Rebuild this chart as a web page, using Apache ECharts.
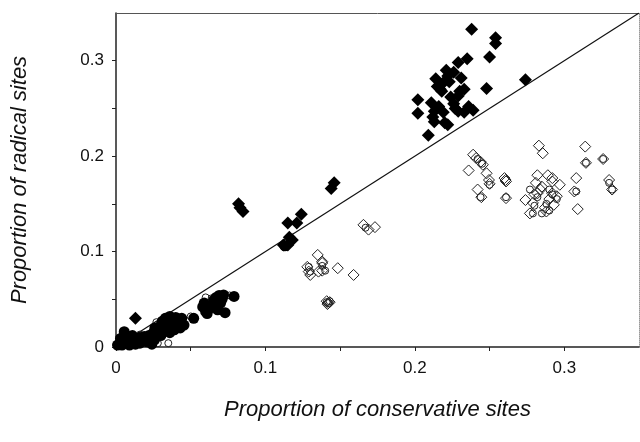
<!DOCTYPE html>
<html>
<head>
<meta charset="utf-8">
<script src="https://cdn.jsdelivr.net/npm/echarts@6/dist/echarts.min.js"></script>
<style>
  html, body { margin: 0; padding: 0; background: #fff; }
  #main { width: 640px; height: 442px; }
</style>
</head>
<body>
<div id="main"></div>
<script>
// filled diamonds: radical proportion above the diagonal
const filledDiamondX = [0.238, 0.254, 0.254, 0.250, 0.235, 0.229, 0.274, 0.222, 0.226, 0.231, 0.219, 0.215, 0.223, 0.230, 0.229, 0.233, 0.248, 0.202, 0.202, 0.211, 0.213, 0.216, 0.219, 0.229, 0.233, 0.213, 0.220, 0.222, 0.209, 0.218, 0.224, 0.226,
  0.214, 0.217, 0.221, 0.212, 0.227, 0.236, 0.239,
  0.082, 0.083, 0.085, 0.146, 0.144, 0.124, 0.121, 0.115, 0.116, 0.112, 0.115, 0.118, 0.013];
const filledDiamondY = [0.333, 0.324, 0.318, 0.304, 0.302, 0.298, 0.280, 0.284, 0.288, 0.282, 0.277, 0.273, 0.278, 0.268, 0.263, 0.270, 0.271, 0.259, 0.245, 0.256, 0.247, 0.252, 0.246, 0.247, 0.246, 0.236, 0.235, 0.233, 0.222, 0.268, 0.262, 0.255,
  0.281, 0.270, 0.290, 0.241, 0.250, 0.252, 0.248,
  0.150, 0.146, 0.142, 0.172, 0.166, 0.139, 0.130, 0.130, 0.115, 0.107, 0.107, 0.112, 0.030];

// filled circles: near the origin
const filledCircleX = [0.072, 0.069, 0.079, 0.073, 0.059, 0.063, 0.0655, 0.068, 0.060, 0.065, 0.070, 0.052, 0.061, 0.037, 0.041, 0.0345, 0.030, 0.028, 0.039, 0.0455, 0.033, 0.036, 0.026, 0.022, 0.019, 0.010, 0.0055, 0.0145, 0.021, 0.001, 0.006, 0.016, 0.026, 0.030, 0.044, 0.040, 0.031, 0.011, 0.003, 0.024, 0.009, 0.113,
  0.034, 0.038, 0.042, 0.032, 0.036, 0.043, 0.029, 0.025, 0.018, 0.013, 0.007, 0.004, 0.016, 0.020, 0.062, 0.067, 0.058, 0.071];
const filledCircleY = [0.0545, 0.054, 0.053, 0.036, 0.046, 0.041, 0.049, 0.039, 0.037, 0.044, 0.046, 0.030, 0.035, 0.028, 0.025, 0.021, 0.023, 0.016, 0.018, 0.023, 0.030, 0.015, 0.020, 0.012, 0.011, 0.007, 0.016, 0.0055, 0.0055, 0.002, 0.004, 0.010, 0.008, 0.012, 0.030, 0.031, 0.027, 0.012, 0.009, 0.003, 0.002, 0.106,
  0.025, 0.021, 0.027, 0.018, 0.032, 0.020, 0.014, 0.015, 0.006, 0.003, 0.010, 0.002, 0.004, 0.009, 0.040, 0.052, 0.042, 0.050];

// open diamonds: conservative proportion above the diagonal
const openDiamondX = [0.283, 0.2856, 0.314, 0.3145, 0.326, 0.239, 0.241, 0.244, 0.2455, 0.236, 0.248, 0.260, 0.282, 0.292, 0.308, 0.330,
  0.250, 0.242, 0.2445, 0.261, 0.261, 0.274, 0.277, 0.288, 0.292, 0.292, 0.281, 0.282, 0.279, 0.293, 0.3067, 0.309, 0.332, 0.2496, 0.2607,
  0.285, 0.290, 0.295, 0.287, 0.284, 0.297, 0.289, 0.280,
  0.1656, 0.169, 0.1733, 0.135, 0.138, 0.138, 0.138, 0.1484, 0.159, 0.128, 0.129, 0.130, 0.1355,
  0.141, 0.142, 0.143, 0.1415];
const openDiamondY = [0.211, 0.203, 0.210, 0.193, 0.197, 0.2015, 0.198, 0.194, 0.191, 0.185, 0.182, 0.177, 0.180, 0.177, 0.177, 0.175,
  0.171, 0.165, 0.157, 0.156, 0.1735, 0.154, 0.140, 0.142, 0.161, 0.1735, 0.172, 0.161, 0.151, 0.149, 0.163, 0.1445, 0.165, 0.175, 0.175,
  0.168, 0.155, 0.158, 0.146, 0.165, 0.170, 0.180, 0.160,
  0.128, 0.123, 0.1256, 0.0965, 0.0895, 0.080, 0.088, 0.0826, 0.0755, 0.084, 0.079, 0.0755, 0.079,
  0.048, 0.046, 0.047, 0.045];

// open circles
const openCircleX = [0.050, 0.027, 0.033, 0.016, 0.022, 0.008, 0.004, 0.028, 0.035, 0.076, 0.064, 0.060,
  0.242, 0.245, 0.244, 0.250, 0.261, 0.282, 0.285, 0.288, 0.292, 0.290, 0.295, 0.277, 0.280, 0.3145, 0.326, 0.330, 0.332, 0.308, 0.279, 0.290,
  0.138, 0.140, 0.130, 0.129, 0.167, 0.141, 0.142, 0.143];
const openCircleY = [0.032, 0.026, 0.031, 0.013, 0.009, 0.013, 0.007, 0.004, 0.004, 0.054, 0.051, 0.052,
  0.197, 0.192, 0.157, 0.170, 0.157, 0.157, 0.140, 0.150, 0.160, 0.165, 0.155, 0.165, 0.148, 0.193, 0.197, 0.172, 0.165, 0.163, 0.140, 0.143,
  0.085, 0.080, 0.079, 0.084, 0.125, 0.047, 0.046, 0.048];

// y = x reference line
const diagonalX = [0, 0.35];
const diagonalY = [0, 0.35];

const zip = (xs, ys) => xs.map((x, i) => [x, ys[i]]);

const chart = echarts.init(document.getElementById('main'));

const tickFmt = v => {
  const r = Math.round(v * 100);
  if (r % 10 !== 0) return '';
  return r === 0 ? '0' : (r / 100).toFixed(1);
};

const labelFont = { fontFamily: 'Liberation Sans', fontSize: 17, color: '#111' };

const option = {
  animation: false,
  grid: { left: 116, right: 1, top: 13, bottom: 95 },
  xAxis: [{
    type: 'value', min: 0, max: 0.35, interval: 0.05,
    name: 'Proportion of conservative sites', nameLocation: 'middle', nameGap: 52,
    nameTextStyle: { fontFamily: 'Liberation Sans', fontStyle: 'italic', fontSize: 22, color: '#111' },
    axisLine: { lineStyle: { color: '#222', width: 1.5 } },
    axisTick: { length: 4, lineStyle: { color: '#222' } },
    axisLabel: Object.assign({ formatter: tickFmt, margin: 13, showMaxLabel: false }, labelFont),
    splitLine: { show: false }
  }, {
    type: 'value', min: 0, max: 0.35, position: 'top',
    axisLine: { show: true, onZero: false, lineStyle: { color: '#555', width: 1 } },
    axisTick: { show: false }, axisLabel: { show: false }, splitLine: { show: false }
  }],
  yAxis: [{
    type: 'value', min: 0, max: 0.35, interval: 0.05,
    name: 'Proportion of radical sites', nameLocation: 'middle', nameGap: 85,
    nameTextStyle: { fontFamily: 'Liberation Sans', fontStyle: 'italic', fontSize: 22, color: '#111' },
    axisLine: { show: true, lineStyle: { color: '#222', width: 1.5 } },
    axisTick: { show: true, length: 4, lineStyle: { color: '#222' } },
    axisLabel: Object.assign({ formatter: tickFmt, margin: 12, showMaxLabel: false }, labelFont),
    splitLine: { show: false }
  }, {
    type: 'value', min: 0, max: 0.35, position: 'right',
    axisLine: { show: true, onZero: false, lineStyle: { color: '#999', width: 1, type: 'dotted' } },
    axisTick: { show: false }, axisLabel: { show: false }, splitLine: { show: false }
  }],
  series: [
    {
      type: 'line', data: zip(diagonalX, diagonalY), symbol: 'none',
      lineStyle: { color: '#111', width: 1.2 }, z: 1
    },
    {
      type: 'scatter', data: zip(openDiamondX, openDiamondY), symbol: 'diamond', symbolSize: 11,
      itemStyle: { color: 'rgba(0,0,0,0)', borderColor: '#222', borderWidth: 1, opacity: 1 }, z: 2
    },
    {
      type: 'scatter', data: zip(openCircleX, openCircleY), symbol: 'circle', symbolSize: 7,
      itemStyle: { color: 'rgba(0,0,0,0)', borderColor: '#222', borderWidth: 1, opacity: 1 }, z: 2
    },
    {
      type: 'scatter', data: zip(filledCircleX, filledCircleY), symbol: 'circle', symbolSize: 11,
      itemStyle: { color: '#000', opacity: 1 }, z: 3
    },
    {
      type: 'scatter', data: zip(filledDiamondX, filledDiamondY), symbol: 'diamond', symbolSize: 13,
      itemStyle: { color: '#000', opacity: 1 }, z: 3
    }
  ]
};

chart.setOption(option);
</script>
</body>
</html>
